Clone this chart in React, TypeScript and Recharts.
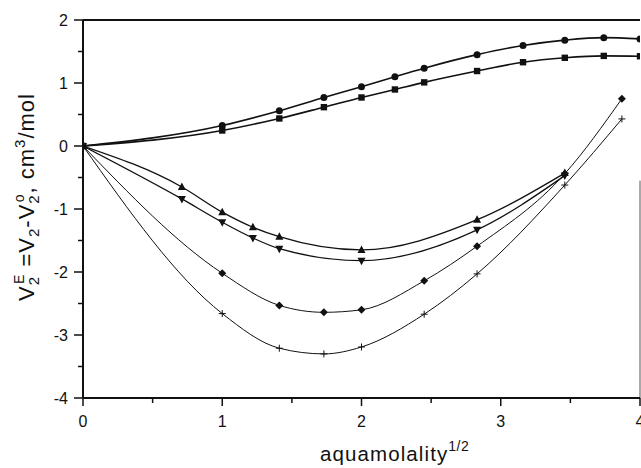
import React from 'react';
import { LineChart, Line, XAxis, YAxis, ReferenceLine } from 'recharts';

// x positions are square roots of the aquamolality
const upperX = [0, 1, 1.41, 1.73, 2, 2.24, 2.45, 2.83, 3.16, 3.46, 3.74, 4];
const circleY = [0, 0.325, 0.56, 0.77, 0.94, 1.1, 1.235, 1.45, 1.595, 1.68, 1.72, 1.7];
const squareY = [0, 0.246, 0.437, 0.616, 0.77, 0.897, 1.01, 1.19, 1.33, 1.4, 1.43, 1.425];

const triangleX = [0, 0.71, 1, 1.22, 1.41, 2, 2.83, 3.46];
const triUpY = [0, -0.65, -1.05, -1.29, -1.44, -1.65, -1.17, -0.43];
const triDownY = [0, -0.84, -1.21, -1.46, -1.63, -1.82, -1.33, -0.47];

const lowerX = [0, 1, 1.41, 1.73, 2, 2.45, 2.83, 3.46, 3.87];
const diamondY = [0, -2.02, -2.53, -2.64, -2.6, -2.14, -1.59, -0.44, 0.75];
const plusY = [0, -2.66, -3.21, -3.3, -3.19, -2.67, -2.03, -0.62, 0.43];

const xTicks = [0, 0.5, 1, 1.5, 2, 2.5, 3, 3.5, 4];
const yTicks = [-4, -3.5, -3, -2.5, -2, -1.5, -1, -0.5, 0, 0.5, 1, 1.5, 2];

const toPoints = (xs: number[], ys: number[]) => xs.map((x, i) => ({ x, y: ys[i] }));

const INK = '#111';
const FONT = '"Liberation Sans", Arial, sans-serif';

const isMajor = (v: number) => Number.isInteger(v);

const YTick = ({ x, y, payload }: any) => {
  const major = isMajor(payload.value);
  return (
    <g>
      <line x1={x} y1={y} x2={x - (major ? 9 : 5)} y2={y} stroke={INK} strokeWidth={1.5} />
      {major && (
        <text x={68} y={y + 5.5} textAnchor="end" fontSize={16} fontFamily={FONT} fill={INK}>
          {payload.value}
        </text>
      )}
    </g>
  );
};

const XTick = ({ x, y, payload }: any) => {
  const major = isMajor(payload.value);
  return (
    <g>
      <line x1={x} y1={y} x2={x} y2={y + (major ? 8 : 5)} stroke={INK} strokeWidth={1.5} />
      {major && (
        <text x={x} y={427} textAnchor="middle" fontSize={16} fontFamily={FONT} fill={INK}>
          {payload.value}
        </text>
      )}
    </g>
  );
};

// marker shapes
const Circle = ({ cx, cy }: any) => <circle cx={cx} cy={cy} r={3.5} fill={INK} />;
const Square = ({ cx, cy }: any) => <rect x={cx - 3.2} y={cy - 3.2} width={6.4} height={6.4} fill={INK} />;
const TriUp = ({ cx, cy }: any) => (
  <path d={`M${cx},${cy - 4.5} L${cx + 4},${cy + 3} L${cx - 4},${cy + 3} Z`} fill={INK} />
);
const TriDown = ({ cx, cy }: any) => (
  <path d={`M${cx},${cy + 4.5} L${cx + 4},${cy - 3} L${cx - 4},${cy - 3} Z`} fill={INK} />
);
const Diamond = ({ cx, cy }: any) => (
  <path d={`M${cx},${cy - 4} L${cx + 4},${cy} L${cx},${cy + 4} L${cx - 4},${cy} Z`} fill={INK} />
);
const Plus = ({ cx, cy }: any) => (
  <path d={`M${cx - 3.5},${cy} H${cx + 3.5} M${cx},${cy - 3.5} V${cy + 3.5}`} stroke={INK} strokeWidth={1} />
);

const YLabel = () => (
  <text
    transform="rotate(-90)"
    x={-197}
    y={34}
    textAnchor="middle"
    fontSize={22}
    fontFamily={FONT}
    fill={INK}
    letterSpacing={1}
  >
    <tspan>V</tspan>
    <tspan fontSize={15} dy={5}>2</tspan>
    <tspan fontSize={14} dx={-8} dy={-15}>E</tspan>
    <tspan dy={10}> =V</tspan>
    <tspan fontSize={15} dy={5}>2</tspan>
    <tspan dy={-5}>-V</tspan>
    <tspan fontSize={15} dy={5}>2</tspan>
    <tspan fontSize={14} dx={-8} dy={-15}>o</tspan>
    <tspan dy={10}>, cm</tspan>
    <tspan fontSize={15} dy={-9}>3</tspan>
    <tspan dy={9}>/mol</tspan>
  </text>
);

const XLabel = () => (
  <text x={320} y={461} fontSize={20.5} fontFamily={FONT} fill={INK} letterSpacing={1.1}>
    aquamolality
    <tspan fontSize={14} dy={-10} letterSpacing={0.5}>1/2</tspan>
  </text>
);

const App: React.FC = () => {
  return (
    <div style={{ position: 'absolute', left: 0, top: 0, width: 641, height: 468, background: '#fff' }}>
      <LineChart width={641} height={468} margin={{ top: 20, right: 1, bottom: 0, left: 0 }}>
        <XAxis
          type="number"
          dataKey="x"
          domain={[0, 4]}
          ticks={xTicks}
          height={70}
          tickSize={0}
          tickMargin={0}
          tickLine={false}
          axisLine={{ stroke: INK, strokeWidth: 2 }}
          tick={<XTick />}
          interval={0}
          allowDataOverflow
          label={<XLabel />}
        />
        <YAxis
          type="number"
          dataKey="y"
          domain={[-4, 2]}
          ticks={yTicks}
          width={83}
          tickSize={0}
          tickMargin={0}
          tickLine={false}
          axisLine={{ stroke: INK, strokeWidth: 2 }}
          tick={<YTick />}
          interval={0}
          allowDataOverflow
          label={<YLabel />}
        />
        <ReferenceLine y={2} stroke={INK} strokeWidth={2} />
        <ReferenceLine
          segment={[{ x: 4, y: -4 }, { x: 4, y: -0.55 }]}
          stroke="#555"
          strokeWidth={1}
        />
        <Line data={toPoints(upperX, circleY)} dataKey="y" type="monotone" stroke={INK} strokeWidth={1.6}
          dot={<Circle />} isAnimationActive={false} />
        <Line data={toPoints(upperX, squareY)} dataKey="y" type="monotone" stroke={INK} strokeWidth={1.6}
          dot={<Square />} isAnimationActive={false} />
        <Line data={toPoints(triangleX, triUpY)} dataKey="y" type="monotone" stroke={INK} strokeWidth={1.3}
          dot={<TriUp />} isAnimationActive={false} />
        <Line data={toPoints(triangleX, triDownY)} dataKey="y" type="monotone" stroke={INK} strokeWidth={1.3}
          dot={<TriDown />} isAnimationActive={false} />
        <Line data={toPoints(lowerX, diamondY)} dataKey="y" type="monotone" stroke={INK} strokeWidth={1}
          dot={<Diamond />} isAnimationActive={false} />
        <Line data={toPoints(lowerX, plusY)} dataKey="y" type="monotone" stroke={INK} strokeWidth={1}
          dot={<Plus />} isAnimationActive={false} />
      </LineChart>
    </div>
  );
};

export default App;
